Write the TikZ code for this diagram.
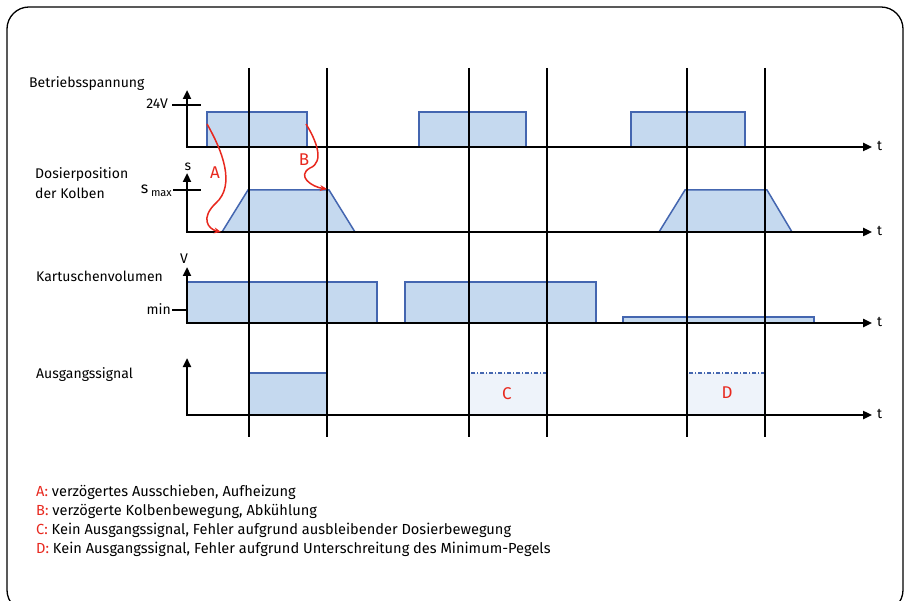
\documentclass[tikz,border=0pt]{standalone}
\usepackage{fontspec}
\setmainfont{Fira Sans}
\usetikzlibrary{arrows.meta}
\definecolor{bfill}{HTML}{C5D9EF}
\definecolor{bline}{HTML}{4466B0}
\definecolor{lfill}{HTML}{EEF3FA}
\definecolor{rd}{HTML}{E8281E}
\tikzset{
  axis/.style={line width=2.4pt,-{Triangle[length=9pt,width=8pt]}},
  tickl/.style={line width=1.4pt},
  vline/.style={line width=1.5pt,black},
  sig/.style={fill=bfill,draw=bline,line width=1.5pt},
  nosig/.style={fill=lfill,draw=bline,line width=1.1pt,dash pattern=on 4pt off 2pt on 1pt off 2pt},
  delay/.style={rd,line width=1.5pt,-{Stealth[length=7pt,width=6pt]}},
  lbl/.style={font=\fontsize{14}{16}\selectfont,anchor=west,inner sep=0pt},
  tl/.style={font=\fontsize{14}{16}\selectfont,inner sep=0pt},
  rl/.style={rd,font=\fontsize{17}{19}\selectfont,inner sep=0pt},
  leg/.style={font=\fontsize{14.6}{16}\selectfont,anchor=west,inner sep=0pt}
}
\begin{document}
\begin{tikzpicture}[x=1pt,y=-1pt]
\useasboundingbox (0,0) rectangle (909,601);
\fill[white] (0,0) rectangle (909,601);
\draw[line width=1.3pt,rounded corners=22pt] (7,7) rectangle (903,612);

% row 1
\filldraw[sig] (207,112) rectangle (307,147);
\filldraw[sig] (419,112) rectangle (526,147);
\filldraw[sig] (631,112) rectangle (745,147);
% row 2
\filldraw[sig] (222,232) -- (248,190) -- (329,190) -- (355,232) -- cycle;
\filldraw[sig] (659,232) -- (685,190) -- (767,190) -- (792,232) -- cycle;
% row 3
\filldraw[sig] (187,323) -- (187,282) -- (377,282) -- (377,323);
\filldraw[sig] (405,323) -- (405,282) -- (596,282) -- (596,323);
\filldraw[sig] (623,323) -- (623,317) -- (814,317) -- (814,323);
% row 4
\filldraw[sig] (249,415) -- (249,373) -- (327,373) -- (327,415);
\filldraw[nosig] (469,373) rectangle (547,415);
\filldraw[nosig] (687,373) rectangle (765,415);

% vertical lines
\foreach \x in {249,327,469,547,687,765}
  \draw[vline] (\x,68) -- (\x,437);

% axes
\coordinate (o1) at (187,147); \coordinate (y1) at (187,90); \coordinate (t1) at (872,147);
\coordinate (o2) at (187,232); \coordinate (y2) at (187,173); \coordinate (t2) at (872,232);
\coordinate (o3) at (187,323); \coordinate (y3) at (187,267); \coordinate (t3) at (872,323);
\coordinate (o4) at (187,415); \coordinate (y4) at (187,358); \coordinate (t4) at (872,415);
\draw[axis] (o1) -- (y1); \draw[axis] ([xshift=-1.2pt]o1) -- (t1);
\draw[axis] (o2) -- (y2); \draw[axis] ([xshift=-1.2pt]o2) -- (t2);
\draw[axis] (o3) -- (y3); \draw[axis] ([xshift=-1.2pt]o3) -- (t3);
\draw[axis] (o4) -- (y4); \draw[axis] ([xshift=-1.2pt]o4) -- (t4);
\draw[tickl] (172,105) -- (201,105);
\draw[tickl] (173,190) -- (201,190);
\draw[tickl] (172,310) -- (187,310);

\node[tl,anchor=west] (ta) at (877,146) {t};
\node[tl,anchor=west] (tb) at (877,231) {t};
\node[tl,anchor=west] (tc) at (877,322) {t};
\node[tl,anchor=west] (td) at (877,414) {t};
\node[tl,anchor=east] (v24) at (168,104) {24V};
\node[tl] (sl) at (188,167) {s};
\node[tl,anchor=east] (smax) at (172,191) {\fontsize{16}{18}\selectfont s\,\raisebox{-0.35ex}{\fontsize{11}{12}\selectfont max}};
\node[tl] (vl) at (184,259) {V};
\node[tl,anchor=east] (minl) at (171,309) {min};

% row labels
\node[lbl] (r1) at (29,84) {Betriebsspannung};
\node[lbl] (r2a) at (35,175) {Dosierposition};
\node[lbl] (r2b) at (35,193) {der Kolben};
\node[lbl] (r3) at (36,276) {Kartuschenvolumen};
\node[lbl] (r4) at (36,375) {Ausgangssignal};

% delays
\draw[delay] (207,124) .. controls (222,150) and (236,185) .. (216,203) .. controls (200,218) and (208,229) .. (221,232);
\draw[delay] (306,124) .. controls (316,140) and (325,162) .. (310,168) .. controls (296,176) and (312,187) .. (327,189);
\node[rl] (la) at (215,173) {A};
\node[rl] (lb) at (304,160) {B};
\node[rl] (lc) at (507,394) {C};
\node[rl] (ld) at (727,393) {D};

% legend
\node[leg] (ga) at (36,492) {\textcolor{rd}{A:} verzögertes Ausschieben, Aufheizung};
\node[leg] (gb) at (36,511) {\textcolor{rd}{B:} verzögerte Kolbenbewegung, Abkühlung};
\node[leg] (gc) at (36,530) {\textcolor{rd}{C:} Kein Ausgangssignal, Fehler aufgrund ausbleibender Dosierbewegung};
\node[leg] (gd) at (36,549) {\textcolor{rd}{D:} Kein Ausgangssignal, Fehler aufgrund Unterschreitung des Minimum-Pegels};
\end{tikzpicture}
\end{document}
